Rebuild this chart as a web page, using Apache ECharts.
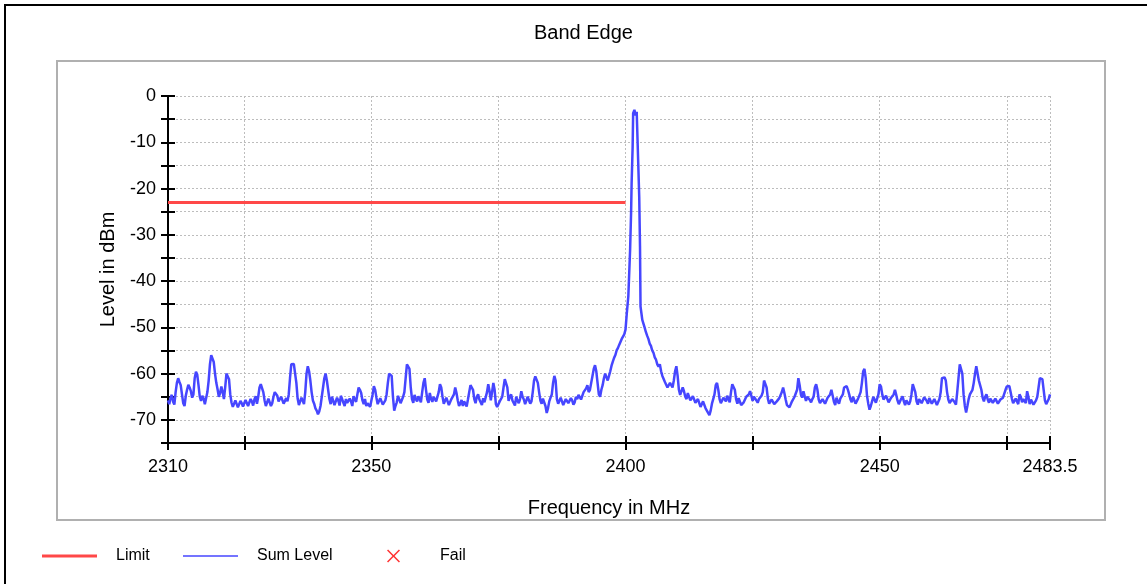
<!DOCTYPE html>
<html><head><meta charset="utf-8">
<script src="https://cdn.jsdelivr.net/npm/echarts@6/dist/echarts.min.js"></script>
<style>html,body{margin:0;padding:0;background:#fff}#c{width:1147px;height:584px}</style>
</head><body><div id="c"></div>
<script>
const chartTitle = 'Band Edge';
const xName = 'Frequency in MHz';
const yName = 'Level in dBm';
const xTickValues = [2310, 2325, 2350, 2375, 2400, 2425, 2450, 2475, 2483.5];
const xLabelValues = [2310, 2350, 2400, 2450, 2483.5];
const limitFreq = [2310, 2400];
const limitLevel = [-23, -23];

const bandStep = 0.25;
const lowBandStart = 2310;
const lowBandLevel = [
  -65.8,-66.6,-65.2,-64.6,-66.1,-66.7,-64.0,-62.0,-61.0,-61.8,-62.5,-64.5,-66.4,-67.0,-64.8,-63.5,-62.4,-63.0,-63.8,-65.2,
  -64.5,-61.0,-59.6,-60.2,-62.5,-65.0,-65.9,-64.8,-65.4,-66.6,-66.2,-64.0,-61.5,-58.0,-56.0,-56.4,-57.5,-60.0,-62.0,-63.4,
  -65.0,-64.2,-62.8,-64.0,-65.5,-63.0,-60.0,-60.4,-61.2,-64.5,-66.3,-67.2,-66.9,-65.8,-66.1,-67.3,-67.0,-65.9,-66.4,-67.1,
  -66.8,-65.7,-65.9,-67.0,-66.7,-65.5,-66.0,-66.9,-65.6,-64.9,-66.5,-65.0,-63.0,-62.3,-62.0,-64.0,-65.8,-67.0,-66.6,-65.4,
  -65.7,-67.0,-66.4,-65.0,-64.0,-63.8,-64.8,-66.0,-66.3,-65.0,-65.2,-66.5,-66.8,-65.3,-66.0,-64.5,-61.0,-58.0,-57.7,-57.9,
  -58.2,-62.0,-65.4,-66.8,-66.5,-65.2,-65.9,-66.6,-64.0,-60.0,-58.4,-59.5,-61.5,-64.0,-65.8,-66.5,-67.5,-68.0,-68.8,-68.2,
  -67.0,-65.0,-63.0,-61.0,-60.0,-61.5,-63.5,-65.5,-66.6,-65.0,-65.2,-66.8,-66.4,-65.2,-65.8,-66.9,-64.8,-65.5,-66.3,-67.0,
  -65.5,-66.3,-66.7,-65.4,-66.0,-67.0,-64.9,-65.6,-66.1,-64.5,-63.0,-63.5,-64.2,-65.8,-66.6,-65.5,-67.0,-66.4,-66.2,-67.2,
  -66.8,-64.5,-62.7,-63.5,-65.2,-66.6,-66.4,-65.3,-65.6,-66.7,-66.9,-65.8,-64.5,-62.0,-60.0,-59.8,-60.5,-65.0,-68.0,-67.0,
  -66.2,-64.8,-65.0,-66.4,-66.0,-65.0,-64.0,-61.0,-58.0,-57.8,-59.0,-63.0,-65.5,-66.3,-64.6,-65.5,-66.0,-64.9,-65.2,-66.2,
  -64.0,-62.0,-61.0,-63.5,-65.6,-66.3,-64.2,-65.5,-66.1,-65.0,-64.8,-66.0,-65.7,-64.0,-62.3,-63.0,-65.0,-66.5,-66.3,-65.2,
  -65.4,-66.8,-66.6,-65.5,-65.1,-64.5,-63.0,-64.2,-65.8,-67.0,-66.5,-65.7,-67.0,-66.0,-66.2,-67.1,-65.6,-64.0,-62.5,-62.8,
  -63.5,-65.5,-66.4,-65.0,-64.5,-65.6,-66.0,-66.8,-65.3,-66.2,-66.5,-64.0,-62.3,-63.8,-65.8,-64.0,-62.0,-63.5,-66.6,-67.2,
  -67.0,-66.0,-66.3,-65.0,-63.0,-61.2,-61.0,-63.0,-65.9,-65.0,-64.5,-65.8,-66.1,-66.9,-65.0,-65.8,-66.4,-65.5,-63.8,-65.0,
  -65.6,-66.6,-66.2,-65.0,-65.4,-66.5,-66.0,-64.0,-61.5,-60.6,-60.5,-62.0,-64.0,-65.8,-66.5,-65.4,-65.8,-67.0,-68.5,-67.5,
  -66.0,-65.2,-64.5,-62.0,-60.5,-61.5,-65.5,-66.5,-66.3,-65.2,-65.6,-66.8,-66.6,-65.5,-65.4,-66.4,-66.1,-65.3,-65.8,-66.7,
  -66.2,-65.0,-65.5,-64.6,-64.2,-65.6,-65.3,-64.0,-64.0,-63.2,-62.5,-64.0,-63.5,-62.0,-60.5,-59.0,-58.2,-59.5,-62.0,-64.5,
  -65.0,-63.5,-62.5,-61.0,-60.0,-60.8,-61.5,-60.5,-59.5,-58.3,-57.4,-56.6,-56.0,-55.0,-54.5,-53.8,-53.5,-52.5,-52.0,-51.5
];
const peakFreq = [2400.0, 2400.25, 2400.55, 2400.9, 2401.1, 2401.2, 2401.4, 2401.5, 2401.75, 2402.0, 2402.2, 2402.4, 2402.5, 2402.7, 2402.85, 2402.95, 2403.3, 2403.75];
const peakLevel = [-50.5, -47.0, -43.3, -33.3, -25.0, -18.8, -11.0, -3.7, -3.0, -4.2, -3.4, -3.6, -14.5, -22.0, -32.5, -45.5, -48.4, -50.0];
const highBandStart = 2404;
const highBandLevel = [
  -51.0,-51.8,-52.5,-53.5,-54.0,-55.0,-55.5,-56.5,-57.0,-58.0,-58.5,-58.0,-59.5,-60.5,-60.5,-61.8,-62.0,-63.0,-63.0,-62.0,
  -62.0,-63.0,-61.5,-59.5,-58.4,-60.5,-63.5,-64.6,-64.8,-63.0,-63.8,-65.0,-65.5,-64.2,-64.5,-65.8,-66.0,-64.9,-65.2,-66.3,
  -66.6,-65.5,-65.8,-67.2,-67.0,-66.0,-66.4,-67.5,-67.8,-68.5,-69.0,-68.0,-66.5,-65.5,-64.5,-62.5,-62.0,-63.5,-65.5,-66.4,
  -66.3,-65.2,-65.0,-66.0,-64.8,-65.5,-66.2,-64.0,-62.3,-62.6,-63.5,-65.5,-66.5,-65.3,-65.6,-66.8,-67.2,-66.2,-66.0,-65.0,
  -65.4,-64.5,-63.8,-64.8,-65.9,-65.0,-64.6,-65.8,-66.3,-65.5,-65.2,-64.8,-64.0,-61.5,-61.3,-63.0,-65.4,-66.5,-66.8,-65.6,
  -65.7,-66.6,-67.0,-66.0,-66.2,-65.3,-65.0,-64.0,-63.0,-64.2,-65.6,-66.8,-66.6,-67.3,-67.2,-66.0,-66.0,-65.0,-65.3,-63.5,
  -61.0,-62.5,-64.5,-65.2,-63.8,-64.9,-65.9,-65.0,-64.6,-65.7,-66.2,-65.5,-65.0,-63.0,-62.3,-63.5,-65.6,-66.4,-66.7,-65.5,
  -65.4,-66.5,-66.3,-65.2,-65.5,-64.5,-63.5,-64.8,-66.1,-66.8,-65.2,-66.0,-66.5,-65.4,-65.8,-64.5,-63.0,-62.6,-62.7,-63.5,
  -64.5,-65.6,-66.2,-65.0,-65.4,-66.5,-66.6,-65.4,-65.8,-64.0,-62.0,-59.5,-59.0,-61.0,-64.8,-66.5,-67.8,-67.0,-66.0,-65.0,
  -65.2,-66.3,-66.4,-64.5,-62.3,-62.8,-64.5,-65.6,-66.0,-64.8,-65.0,-66.2,-66.5,-65.2,-65.4,-64.5,-63.5,-64.6,-65.8,-66.6,
  -66.3,-65.4,-64.9,-66.0,-66.8,-65.8,-65.6,-66.7,-66.0,-64.5,-62.3,-62.6,-64.0,-66.0,-66.7,-65.5,-65.3,-66.4,-66.2,-65.1,
  -65.0,-65.9,-66.5,-65.3,-65.4,-66.5,-66.6,-65.5,-65.8,-66.8,-66.9,-65.5,-64.0,-61.0,-60.6,-60.8,-61.5,-64.0,-65.6,-66.4,
  -66.4,-65.5,-65.3,-66.2,-66.7,-64.0,-61.0,-58.0,-57.7,-60.0,-64.5,-67.0,-68.4,-67.0,-65.5,-64.5,-64.8,-63.5,-62.0,-60.0,
  -58.4,-58.8,-61.5,-62.5,-63.5,-65.2,-66.0,-65.0,-64.5,-65.6,-66.3,-65.4,-65.2,-66.3,-66.6,-65.4,-65.5,-66.5,-66.8,-65.6,
  -66.0,-65.2,-64.8,-63.5,-62.8,-62.5,-62.7,-64.0,-65.4,-66.4,-66.5,-65.4,-65.6,-66.6,-64.5,-65.0,-66.2,-65.5,-65.3,-66.4,
  -63.8,-65.0,-66.6,-65.6,-65.8,-66.7,-66.9,-65.8,-65.0,-63.0,-61.0,-60.8,-61.2,-63.5,-65.8,-66.6,-66.5,-65.5,-64.5
];

const sumData = [];
lowBandLevel.forEach((v, i) => sumData.push([lowBandStart + i * bandStep, v]));
peakFreq.forEach((f, i) => sumData.push([f, peakLevel[i]]));
highBandLevel.forEach((v, i) => sumData.push([highBandStart + i * bandStep, v]));
const limitData = limitFreq.map((f, i) => [f, limitLevel[i]]);

const FONT = "'Liberation Sans', Arial, sans-serif";
const crossIcon = 'path://M0,1L1,0L6,5L11,0L12,1L7,6L12,11L11,12L6,7L1,12L0,11L5,6Z';
const RED = '#ff4848';
const BLUE = '#4646ff';

const gridBox = {left: 168, right: 97, top: 96, bottom: 141};
const legendBase = {
  top: 548, itemWidth: 55, itemHeight: 13, padding: 0, selectedMode: false,
  textStyle: {fontSize: 16, color: '#000', fontFamily: FONT, padding: [0, 0, 0, 14]}
};
const dotted = {show: true, lineStyle: {color: '#bdbdbd', type: [2, 2], width: 1}};
const tickStyle = {color: '#000', width: 2};

const chart = echarts.init(document.getElementById('c'), null, {renderer: 'canvas'});
chart.setOption({
  animation: false,
  backgroundColor: '#fff',
  title: {
    text: chartTitle, left: 529, top: 18,
    textStyle: {fontSize: 20, fontWeight: 'normal', color: '#000', fontFamily: FONT}
  },
  legend: [
    Object.assign({}, legendBase, {left: 42, data: [{name: 'Limit', icon: 'path://M0,0H55V3H0Z'}]}),
    Object.assign({}, legendBase, {left: 183, data: [{name: 'Sum Level', icon: 'path://M0,0H55V1.6H0Z'}]}),
    Object.assign({}, legendBase, {left: 387, data: [{name: 'Fail', icon: crossIcon}]})
  ],
  grid: [Object.assign({}, gridBox), Object.assign({}, gridBox)],
  xAxis: [{
    type: 'value', gridIndex: 0, min: 2310, max: 2483.5, position: 'bottom',
    axisLine: {show: true, onZero: false, lineStyle: {color: '#000', width: 2}},
    axisTick: {show: true, length: 7, customValues: xTickValues, lineStyle: tickStyle},
    axisLabel: {customValues: xLabelValues, formatter: v => String(v), color: '#000', fontSize: 18, margin: 15, fontFamily: FONT},
    splitLine: dotted,
    name: xName, nameLocation: 'middle', nameGap: 55,
    nameTextStyle: {fontSize: 20, color: '#000', fontFamily: FONT}
  }, {
    type: 'value', gridIndex: 1, min: 2310, max: 2483.5, position: 'bottom',
    axisLine: {show: false, onZero: false},
    axisTick: {show: true, inside: true, length: 7, customValues: xTickValues, lineStyle: tickStyle},
    axisLabel: {show: false},
    splitLine: {show: false}
  }],
  yAxis: [{
    type: 'value', gridIndex: 0, min: -75, max: 0, interval: 5, position: 'left',
    axisLine: {show: true, onZero: false, lineStyle: {color: '#000', width: 2}},
    axisTick: {show: true, length: 7, lineStyle: tickStyle},
    axisLabel: {
      formatter: v => (v % 10 === 0 ? String(v) : ''),
      color: '#000', fontSize: 18, margin: 12, fontFamily: FONT
    },
    splitLine: dotted,
    name: yName, nameLocation: 'middle', nameGap: 50, nameRotate: 90,
    nameTextStyle: {fontSize: 20, color: '#000', fontFamily: FONT}
  }, {
    type: 'value', gridIndex: 1, min: -75, max: 0, interval: 5, position: 'left',
    axisLine: {show: false, onZero: false},
    axisTick: {show: true, inside: true, length: 7, lineStyle: tickStyle},
    axisLabel: {show: false},
    splitLine: {show: false}
  }],
  series: [{
    name: 'Limit', type: 'line', data: limitData, symbol: 'none', z: 4,
    color: RED, lineStyle: {color: RED, width: 3}
  }, {
    name: 'Sum Level', type: 'line', data: sumData, symbol: 'none', z: 3,
    color: BLUE, lineStyle: {color: BLUE, width: 2.5}
  }, {
    name: 'Fail', type: 'scatter', data: [], symbol: crossIcon, symbolKeepAspect: true,
    color: '#ff0000', itemStyle: {color: '#ff0000'}
  }],
  graphic: [
    {type: 'rect', z: 100, shape: {x: 57, y: 521, width: 1050, height: 12}, style: {fill: '#fff'}},
    {type: 'rect', z: 101, shape: {x: 57, y: 61, width: 1048, height: 459}, style: {fill: null, stroke: '#b0b0b0', lineWidth: 2}},
    {type: 'polyline', z: 101, shape: {points: [[5, 600], [5, 5], [1147, 5]]}, style: {stroke: '#000', lineWidth: 2, fill: null}}
  ]
});
</script>
</body></html>
